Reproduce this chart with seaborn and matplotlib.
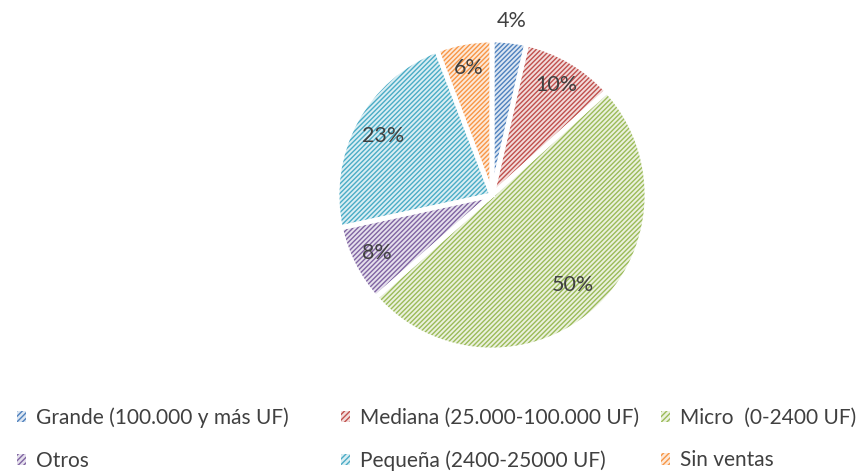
import matplotlib
matplotlib.use("Agg")
import matplotlib.pyplot as plt
from matplotlib.patches import Patch
import numpy as np
import seaborn as sns

categories = ["Grande (100.000 y más UF)", "Mediana (25.000-100.000 UF)",
              "Micro  (0-2400 UF)", "Otros", "Pequeña (2400-25000 UF)", "Sin ventas"]
shares = [3.6, 9.7, 50.2, 8.1, 22.6, 5.8]
line_colors = ["#4F81BD", "#C0504D", "#9BBB59", "#8064A2", "#4BACC6", "#F79646"]
face_colors = ["#DCE6F2", "#F2DCDB", "#EBF1DE", "#E5E0EC", "#DAEEF3", "#FDE9D9"]
label_dist = [1.13, 0.82, 0.78, 0.83, 0.80, 0.83]

sns.set_theme(style="white")
plt.rcParams["font.family"] = ["Lato", "DejaVu Sans"]
plt.rcParams["hatch.linewidth"] = 1.0

fig = plt.figure(figsize=(8.59, 4.71), dpi=100)
r = 155
cx, cy = 492, 195
ax = fig.add_axes([(cx - r) / 859, (471 - cy - r) / 471, 2 * r / 859, 2 * r / 471])

# hatched wedges
wedges, _ = ax.pie(shares, colors=face_colors, startangle=90, counterclock=False,
                   wedgeprops=dict(linewidth=0))
for w, lc in zip(wedges, line_colors):
    w.set_hatch("///////")
    w.set_edgecolor(lc)
    w.set_linewidth(0)

# white separators
ax.pie(shares, colors=["none"] * 6, startangle=90, counterclock=False,
       wedgeprops=dict(linewidth=3.5, edgecolor="white", fill=False))

total = sum(shares)
for w, s, d in zip(wedges, shares, label_dist):
    ang = np.deg2rad((w.theta1 + w.theta2) / 2)
    ax.text(d * np.cos(ang), d * np.sin(ang), f"{s / total * 100:.0f}%",
            ha="center", va="center", fontsize=15.5, color="#404040")

ax.set_xlim(-1, 1)
ax.set_ylim(-1, 1)
ax.axis("off")

handles = [Patch(facecolor=f, edgecolor=c, hatch="//////", linewidth=0)
           for f, c in zip(face_colors, line_colors)]
col_x = [2 / 859, 326 / 859, 646 / 859]
for i, x in enumerate(col_x):
    idx = [i, i + 3]
    fig.legend([handles[j] for j in idx], [categories[j] for j in idx],
               loc="upper left", bbox_to_anchor=(x, 1 - 393 / 471), frameon=False,
               fontsize=15, handlelength=0.45, handleheight=0.45, handletextpad=0.5,
               labelspacing=1.1, labelcolor="#404040", borderpad=0.2)

fig.savefig("out.png", dpi=100)
